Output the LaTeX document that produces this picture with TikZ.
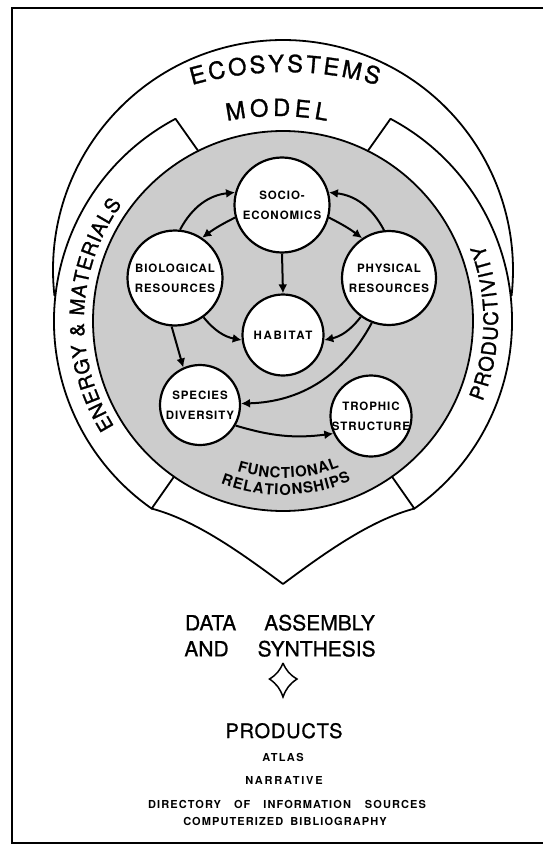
\documentclass[tikz,border=0pt]{standalone}
\usepackage{fontspec}
\setmainfont{TeX Gyre Heros}
\newfontfamily\bigfont{TeX Gyre Heros}[FakeBold=1.2]
\newfontfamily\lblfont{TeX Gyre Heros}[LetterSpace=8]
\newfontfamily\habfont{TeX Gyre Heros}[LetterSpace=15]
\newfontfamily\prodfont{TeX Gyre Heros}[LetterSpace=4,FakeBold=0.8]
\newfontfamily\atlasfont{TeX Gyre Heros}[LetterSpace=12]
\newfontfamily\narrfont{TeX Gyre Heros}[LetterSpace=16]
\newfontfamily\dirfont{TeX Gyre Heros}[LetterSpace=10]
\usetikzlibrary{arrows.meta,decorations.text}
\newcommand\ecofont{\bigfont\fontsize{23.6}{28}\selectfont}
\newcommand\bandfont{\bigfont\fontsize{20}{24}\selectfont}
\newcommand\funcfont{\bfseries\fontsize{15}{18}\selectfont}
\begin{document}
\begin{tikzpicture}[x=1pt,y=1pt,
  outline/.style={line width=1.8pt,line cap=round,line join=round},
  bubble/.style={circle,draw,line width=2.2pt,fill=white,inner sep=0pt},
  lbl/.style={align=center,inner sep=0pt,font=\lblfont\bfseries\fontsize{11.5}{20}\selectfont},
  conn/.style={line width=2pt,-{Latex[length=9pt,width=9pt]}},
  btext/.style={anchor=base,inner sep=0pt},
]
\useasboundingbox (0,0) rectangle (543,-845);
% frame
\draw[line width=2.5pt] (543,-8) -- (12,-8) -- (12,-843) -- (543,-843);

% shaded ring
\filldraw[outline,fill=black!20] (283,-321) circle[radius=190];
% top (ecosystems) arc
\draw[outline] (283,-270) ++(186.37:230) arc[start angle=186.37,end angle=-6.37,radius=230];
\begin{scope}[shift={(283,-321)}]
  \draw[outline] (118:229) arc[start angle=118,end angle=235,radius=229];
  \draw[outline] (62:229) arc[start angle=62,end angle=-55,radius=229];
  \draw[outline] (118:229) -- (116.5:190);
  \draw[outline] (62:229) -- (63.5:190);
  \draw[outline] (235:229) -- (235:190);
  \draw[outline] (-55:229) -- (-55:190);
  \draw[outline] (235:229) .. controls (-88,-199) and (-43,-231) .. (0,-263)
                 .. controls (43,-231) and (88,-199) .. (-55:229);
  % band texts
  \path[decorate,decoration={text along path,text align={fit to path},
        text={|\bandfont|ENERGY {\&} MATERIALS}}]
        (212:199) arc[start angle=212,end angle=144,radius=199];
  \path[decorate,decoration={text along path,text align={fit to path},
        text={|\bandfont|PRODUCTIVITY}}]
        (-22:215) arc[start angle=-22,end angle=21,radius=215];
  \path[decorate,decoration={text along path,text align={fit to path},
        text={|\funcfont|FUNCTIONAL}}]
        (253:157) arc[start angle=253,end angle=291,radius=157];
  \path[decorate,decoration={text along path,text align={fit to path},
        text={|\funcfont|RELATIONSHIPS}}]
        (249:174) arc[start angle=249,end angle=293,radius=174];
\end{scope}
\begin{scope}[shift={(285,-409)}]
  \path[decorate,decoration={text along path,text align={fit to path},
        text={|\ecofont|ECOSYSTEMS}}]
        (106:337) arc[start angle=106,end angle=74,radius=337];
\end{scope}
\begin{scope}[shift={(277,-366)}]
  \path[decorate,decoration={text along path,text align={fit to path},
        text={|\ecofont|MODEL}}]
        (101.5:250) arc[start angle=101.5,end angle=78.5,radius=250];
\end{scope}

% nodes
\node[bubble,minimum size=95pt] (socio) at (282,-205) {};
\node[bubble,minimum size=95pt] (bio) at (175,-278) {};
\node[bubble,minimum size=94pt] (phys) at (389,-278) {};
\node[bubble,minimum size=81pt] (habitat) at (283,-335) {};
\node[bubble,minimum size=80pt] (species) at (200,-405) {};
\node[bubble,minimum size=81pt] (trophic) at (371,-416) {};
\node[lbl] (socioT) at (socio) {SOCIO-\\ECONOMICS};
\node[lbl] (bioT) at (bio) {BIOLOGICAL\\RESOURCES};
\node[lbl] (physT) at (phys) {PHYSICAL\\RESOURCES};
\node[lbl,font=\habfont\bfseries\fontsize{11.5}{20}\selectfont] (habitatT) at (habitat) {HABITAT};
\node[lbl] (speciesT) at (species) {SPECIES\\DIVERSITY};
\node[lbl] (trophicT) at (trophic) {TROPHIC\\STRUCTURE};

% connectors
\draw[conn] (bio.84) to[bend left=28] (socio.165);
\draw[conn] (socio.195) to[bend right=5] (bio.56);
\draw[conn] (phys.96) to[bend right=28] (socio.15);
\draw[conn] (socio.-15) to[bend left=5] (phys.124);
\draw[conn] (socio.south) -- (habitat.north);
\draw[conn] (bio.-54) to[bend right=20] (habitat.187);
\draw[conn] (phys.234) to[bend left=20] (habitat.-7);
\draw[conn] (bio.266) -- (species.114);
\draw[conn] (phys.249) to[bend left=30] (species.2);
\draw[conn] (species.-30) to[bend right=12] (trophic.205);

% bottom texts
\node[btext] (dataA) at (280,-630.4) {\prodfont\addfontfeatures{LetterSpace=0}\fontsize{21}{25}\selectfont DATA\hspace{28pt}ASSEMBLY};
\node[btext] (dataB) at (280,-656.4) {\prodfont\addfontfeatures{LetterSpace=0}\fontsize{21}{25}\selectfont AND\hspace{29pt}SYNTHESIS};
\coordinate (dT) at (283,-663);
\coordinate (dL) at (269.5,-679);
\coordinate (dB) at (283,-697);
\coordinate (dR) at (297,-679);
\draw[line width=1.5pt,line join=miter] (dT) to[bend left=18] (dL) to[bend left=18] (dB)
   to[bend left=18] (dR) to[bend left=18] (dT);
\node[btext] (prod) at (284,-738) {\prodfont\fontsize{20}{24}\selectfont PRODUCTS};
\node[btext] (atlas) at (283,-761) {\atlasfont\bfseries\fontsize{11}{13}\selectfont ATLAS};
\node[btext] (narr) at (284,-784) {\narrfont\bfseries\fontsize{11}{13}\selectfont NARRATIVE};
\node[btext] (dir) at (287,-808) {\dirfont\bfseries\fontsize{11}{13}\selectfont DIRECTORY\hspace{13pt}OF\hspace{13pt}INFORMATION\hspace{14pt}SOURCES};
\node[btext] (comp) at (285,-825) {\dirfont\bfseries\fontsize{11}{13}\selectfont COMPUTERIZED\hspace{7pt}BIBLIOGRAPHY};
\end{tikzpicture}
\end{document}
